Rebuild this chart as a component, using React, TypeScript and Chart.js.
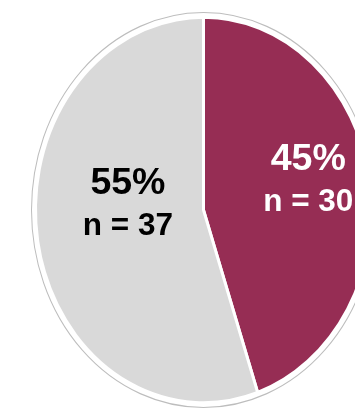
import React, { useEffect, useRef } from "react";
import { Chart, registerables } from "chart.js";

Chart.register(...registerables);

const categories = ["Group A", "Group B"];
const counts = [30, 37];
const sliceColors = ["#962D54", "#D9D9D9"];
const labelColors = ["#FFFFFF", "#000000"];
// label placement: fraction of radius along the slice's mid angle, plus nudge
const labelRadiusFraction = [0.62, 0.45];
const labelNudgeX = [2, -1];
const labelNudgeY = [-10, -20];

const STRETCH_Y = 1.148;

export default function App() {
  const ref = useRef<HTMLCanvasElement>(null);

  useEffect(() => {
    const canvas = ref.current;
    if (!canvas) return;

    const stretch = {
      id: "stretch",
      beforeDatasetsDraw(chart: any) {
        const arc: any = chart.getDatasetMeta(0).data[0];
        const ctx = chart.ctx;
        ctx.save();
        ctx.translate(arc.x, arc.y);
        ctx.scale(1, STRETCH_Y);
        ctx.translate(-arc.x, -arc.y);
      },
      afterDatasetsDraw(chart: any) {
        const arc: any = chart.getDatasetMeta(0).data[0];
        const ctx = chart.ctx;
        ctx.beginPath();
        ctx.arc(arc.x, arc.y, arc.outerRadius + 4, 0, Math.PI * 2);
        ctx.strokeStyle = "#BDBDBD";
        ctx.lineWidth = 1;
        ctx.stroke();
        ctx.restore();
      },
    };

    const labels = {
      id: "sliceLabels",
      afterDraw(chart: any) {
        const ctx = chart.ctx;
        const meta = chart.getDatasetMeta(0);
        const total = counts.reduce((a, b) => a + b, 0);
        meta.data.forEach((arc: any, i: number) => {
          const mid = (arc.startAngle + arc.endAngle) / 2;
          const r = arc.outerRadius * labelRadiusFraction[i];
          const x = arc.x + r * Math.cos(mid) + labelNudgeX[i];
          const y = arc.y + r * Math.sin(mid) * STRETCH_Y + labelNudgeY[i];
          const pct = Math.round((counts[i] / total) * 100) + "%";
          ctx.save();
          ctx.fillStyle = labelColors[i];
          ctx.textAlign = "center";
          ctx.textBaseline = "alphabetic";
          ctx.font = "bold 37.5px 'Liberation Sans', Arial, sans-serif";
          ctx.fillText(pct, x, y - 10);
          ctx.font = "bold 31.5px 'Liberation Sans', Arial, sans-serif";
          ctx.fillText("n = " + counts[i], x, y + 31);
          ctx.restore();
        });
      },
    };

    const chart = new Chart(canvas, {
      type: "pie",
      data: {
        labels: categories,
        datasets: [
          {
            data: counts,
            backgroundColor: sliceColors,
            borderColor: "#FFFFFF",
            borderWidth: 3,
          },
        ],
      },
      options: {
        responsive: false,
        animation: false,
        events: [],
        radius: 168,
        plugins: {
          legend: { display: false },
          tooltip: { enabled: false },
        },
      } as any,
      plugins: [stretch, labels],
    });

    return () => chart.destroy();
  }, []);

  return (
    <div
      style={{
        position: "fixed",
        left: 0,
        top: 0,
        width: 355,
        height: 410,
        overflow: "hidden",
        background: "#FFFFFF",
      }}
    >
      <canvas ref={ref} width={407} height={420} style={{ display: "block" }} />
    </div>
  );
}
